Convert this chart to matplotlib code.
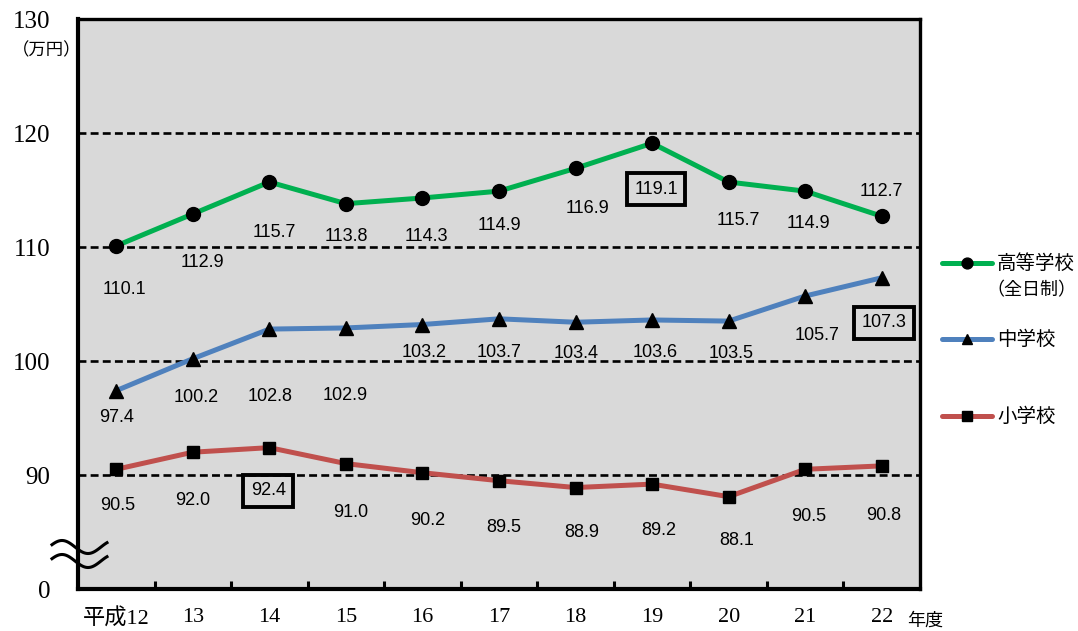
import numpy as np
import matplotlib
matplotlib.use("Agg")
import matplotlib.pyplot as plt
from matplotlib.lines import Line2D

# ---- data (万円) ----
years = ["平成12", "13", "14", "15", "16", "17", "18", "19", "20", "21", "22"]
high_school = [110.1, 112.9, 115.7, 113.8, 114.3, 114.9, 116.9, 119.1, 115.7, 114.9, 112.7]
junior_high = [97.4, 100.2, 102.8, 102.9, 103.2, 103.7, 103.4, 103.6, 103.5, 105.7, 107.3]
elementary = [90.5, 92.0, 92.4, 91.0, 90.2, 89.5, 88.9, 89.2, 88.1, 90.5, 90.8]
series_names = ["高等学校\n（全日制）", "中学校", "小学校"]
y_ticks = [80, 90, 100, 110, 120, 130]
y_tick_labels = ["0", "90", "100", "110", "120", "130"]

# boxed (maximum) value per series
boxed_index = {"high": 7, "junior": 10, "elem": 2}

# label placement, pixel offsets (dx right, dy down) from each marker
high_offsets = [(8, 44), (10, 49), (5, 50), (0, 33), (4, 39), (0, 34),
                (12, 40), (4, 46), (10, 38), (3, 32), (0, -25)]
junior_offsets = [(0, 27), (3, 39), (1, 67), (-1, 68), (2, 28), (0, 34),
                  (1, 31), (3, 33), (2, 32), (12, 39), (2, 45)]
elem_offsets = [(1, 36), (0, 48), (-1, 43), (5, 49), (5, 48), (5, 47),
                (6, 45), (7, 46), (8, 44), (4, 47), (2, 50)]

GREEN = "#00B050"
BLUE = "#4F81BD"
RED = "#C0504D"
BG = "#D9D9D9"

W, H = 1078, 631
fig = plt.figure(figsize=(W / 100, H / 100), dpi=100)
fig.patch.set_facecolor("white")
ax = fig.add_axes([78 / W, 1 - 589 / H, (920 - 78) / W, (589 - 19) / H])
ax.set_facecolor(BG)

x = np.arange(len(years))
ax.set_xlim(-0.5, len(years) - 0.5)
ax.set_ylim(80, 130)

# dashed reference lines
for yv in [90, 100, 110, 120, 130]:
    ax.axhline(yv, color="black", lw=1.9, dashes=(3.0, 1.6), zorder=1,
               clip_on=False)

series = [
    (high_school, GREEN, "o", 10, high_offsets, boxed_index["high"]),
    (junior_high, BLUE, "^", 10, junior_offsets, boxed_index["junior"]),
    (elementary, RED, "s", 8.5, elem_offsets, boxed_index["elem"]),
]

label_font = dict(family=["Liberation Sans", "DejaVu Sans"], size=13)
for vals, color, marker, ms, offs, bi in series:
    ax.plot(x, vals, color=color, lw=3.6, marker=marker, ms=ms,
            mfc="black", mec="black", zorder=3, solid_capstyle="round")
    for i, v in enumerate(vals):
        dx, dy = offs[i]
        kw = {}
        if i == bi:
            kw["bbox"] = dict(boxstyle="square,pad=0.42", fc="none",
                              ec="black", lw=2.8)
        ax.annotate(f"{v:.1f}", (x[i], v), xytext=(dx, -dy),
                    textcoords="offset pixels", ha="center", va="center",
                    color="black", zorder=4, **label_font, **kw)

# spines
for side, lw in [("left", 3.0), ("bottom", 3.0), ("right", 2.4), ("top", 2.4)]:
    ax.spines[side].set_linewidth(lw)
    ax.spines[side].set_color("black")
    ax.spines[side].set_zorder(5)

tick_font = ["Liberation Serif", "Noto Sans CJK JP"]
ax.set_yticks(y_ticks)
ax.set_yticklabels(y_tick_labels, family=tick_font, fontsize=18)
ax.tick_params(axis="y", length=0, pad=20)
ax.set_xticks(x)
ax.set_xticklabels(years, family=tick_font, fontsize=16)
ax.tick_params(axis="x", which="major", length=0, pad=14)
ax.set_xticks(x[:-1] + 0.5, minor=True)
ax.tick_params(axis="x", which="minor", direction="in", length=5.5,
               width=2.2, color="black")

# axis break mark on the left spine
t = np.linspace(52, 107, 80)
for yc in (547, 561):
    yy = yc - 6.5 * np.cos(2 * np.pi * (t - 62) / 52)
    ax.plot((t - 78) / 842, (589 - yy) / 570, color="black", lw=2.2,
            transform=ax.transAxes, clip_on=False, zorder=6)

# unit and axis captions
fig.text(47 / W, 1 - 50 / H, "（万円）", family=["Noto Sans CJK JP"],
         fontsize=12.5, ha="center", va="center")
fig.text(925 / W, 1 - 621 / H, "年度", family=["Noto Sans CJK JP"],
         fontsize=13, ha="center", va="center")

# legend
legend_rows = [
    (GREEN, "o", 10, 263, series_names[0]),
    (BLUE, "^", 10, 339, series_names[1]),
    (RED, "s", 8.5, 416, series_names[2]),
]
for color, marker, ms, ypix, name in legend_rows:
    yf = 1 - ypix / H
    fig.add_artist(Line2D([942 / W, 992 / W], [yf, yf], color=color, lw=3.6,
                          solid_capstyle="round"))
    fig.add_artist(Line2D([967 / W], [yf], marker=marker, ms=ms * 0.78,
                          mfc="black", mec="black", ls="none"))
    first, *rest = name.split("\n")
    fig.text(997 / W, yf, first, family=["Noto Sans CJK JP"], fontsize=14,
             ha="left", va="center")
    for k, line in enumerate(rest):
        fig.text(986 / W, 1 - (ypix + 27 * (k + 1)) / H, line,
                 family=["Noto Sans CJK JP"], fontsize=13,
                 ha="left", va="center")

fig.savefig("out.png", dpi=100, facecolor="white")
